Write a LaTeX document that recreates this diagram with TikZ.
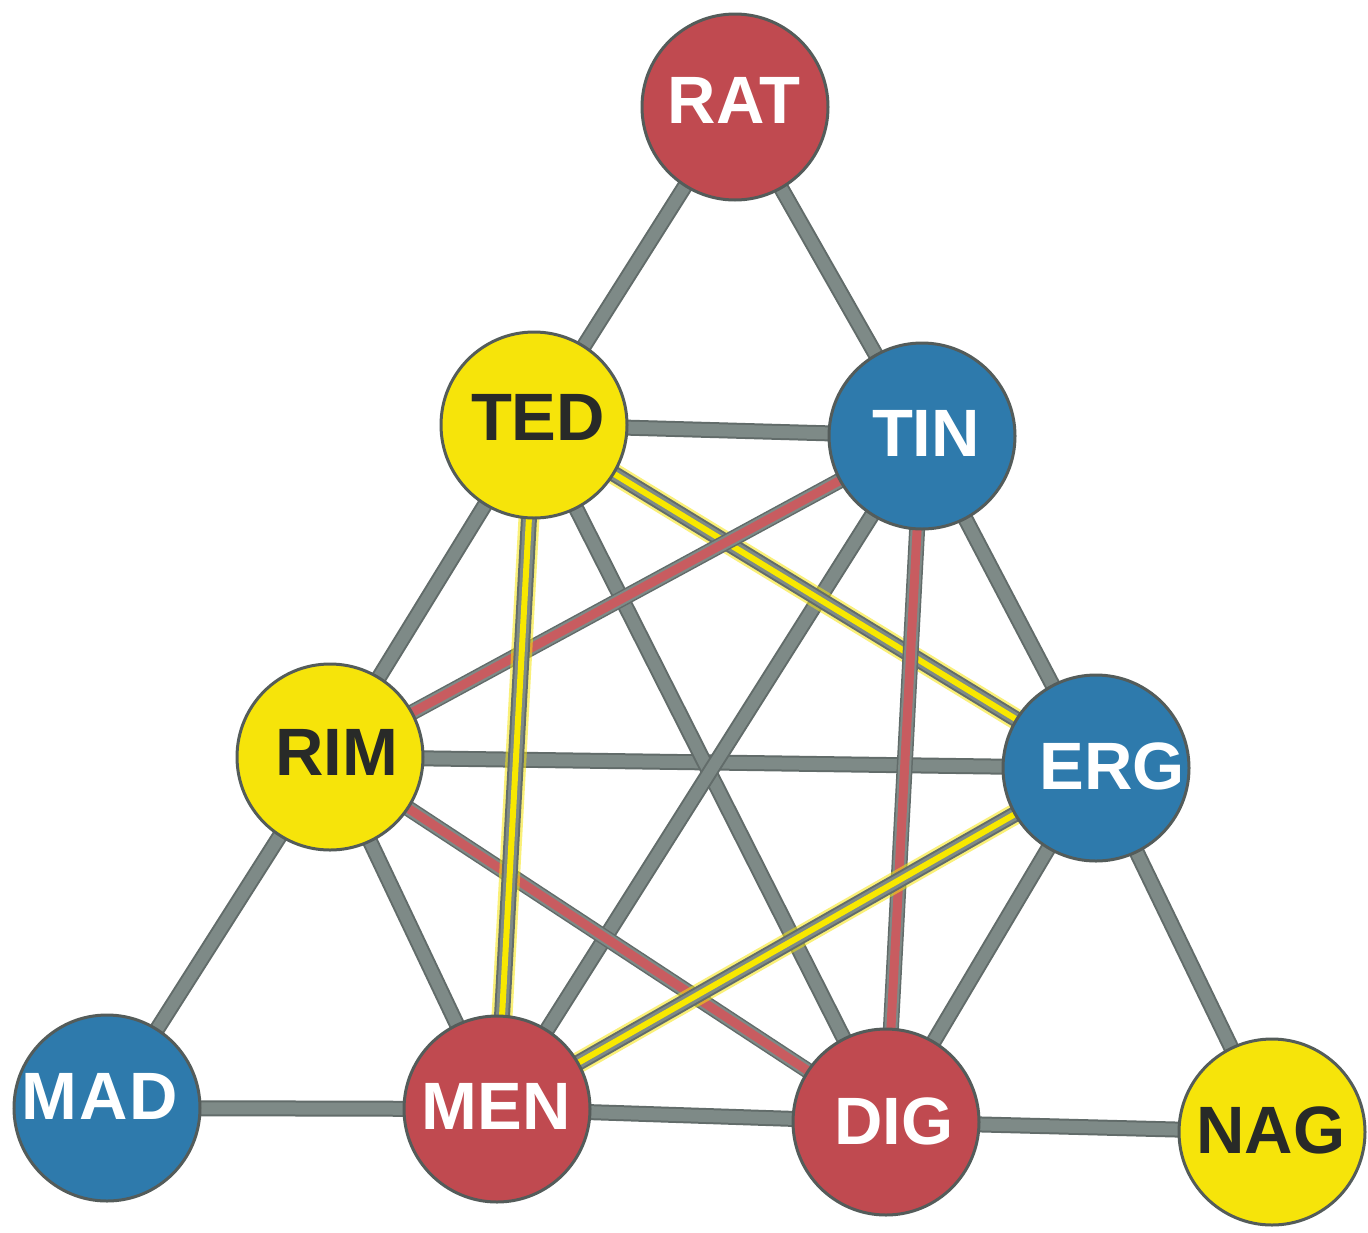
\documentclass[tikz,border=0pt]{standalone}
\usepackage{fontspec}
\newfontfamily\labelfont{Liberation Sans}
\pgfdeclarelayer{background}
\pgfsetlayers{background,main}
\definecolor{ballred}{RGB}{192,74,80}
\definecolor{ballblue}{RGB}{46,122,172}
\definecolor{ballyellow}{RGB}{246,228,10}
\definecolor{rodgray}{RGB}{126,138,135}
\definecolor{roddark}{RGB}{98,108,106}
\definecolor{rim}{RGB}{84,92,90}
\definecolor{inkdark}{RGB}{40,42,40}
\definecolor{stripered}{RGB}{200,92,96}
\definecolor{stripeyellow}{RGB}{248,232,0}
\tikzset{
  x=1pt, y=-1pt,
  ball/.style={circle, draw=rim, line width=3pt, minimum size=186pt, inner sep=0pt},
  redball/.style={ball, fill=ballred},
  blueball/.style={ball, fill=ballblue},
  yellowball/.style={ball, fill=ballyellow},
  lbl/.style={inner sep=0pt, font=\labelfont\bfseries\fontsize{67}{76}\selectfont},
  whitelbl/.style={lbl, text=white},
  darklbl/.style={lbl, text=inkdark},
  rodout/.style={draw=roddark, line width=16pt},
  rodin/.style={draw=rodgray, line width=12pt},
  redstripe/.style={draw=stripered, line width=9pt},
  yellowhalo/.style={draw=ballyellow, line width=21pt, opacity=0.55},
  yellowstripe/.style={draw=stripeyellow, line width=6pt},
}
\newcommand{\grayrod}[2]{%
  \draw[rodout] (#1.center) -- (#2.center);
  \draw[rodin] (#1.center) -- (#2.center);}
\newcommand{\redrod}[2]{%
  \draw[rodout] (#1.center) -- (#2.center);
  \draw[rodin, line width=13pt] (#1.center) -- (#2.center);
  \draw[redstripe] (#1.center) -- (#2.center);}
\newcommand{\yellowrod}[2]{%
  \draw[yellowhalo] (#1.center) -- (#2.center);
  \draw[rodout] (#1.center) -- (#2.center);
  \draw[rodin, line width=12pt] (#1.center) -- (#2.center);
  \draw[yellowstripe] (#1.center) -- (#2.center);}
\begin{document}
\begin{tikzpicture}
\useasboundingbox (0,0) rectangle (1368,1232);

% balls
\node[redball]    (rat) at (735,107)  {};
\node[yellowball] (ted) at (534,425)  {};
\node[blueball]   (tin) at (922,436)  {};
\node[yellowball] (rimb) at (330,757) {};
\node[blueball]   (erg) at (1096,768) {};
\node[blueball]   (mad) at (107,1108) {};
\node[redball]    (men) at (497,1109) {};
\node[redball]    (dig) at (886,1122) {};
\node[yellowball] (nag) at (1272,1132) {};

% words on the balls
\node[whitelbl] (rat-t)  at (734,100)  {RAT};
\node[darklbl]  (ted-t)  at (538,417)  {TED};
\node[whitelbl] (tin-t)  at (926,433)  {TIN};
\node[darklbl]  (rim-t)  at (337,752)  {RIM};
\node[whitelbl] (erg-t)  at (1112,766) {ERG};
\node[whitelbl] (mad-t)  at (100,1096) {M\kern2pt A\kern2pt D};
\node[whitelbl] (men-t)  at (496,1106) {MEN};
\node[whitelbl] (dig-t)  at (894,1121) {DIG};
\node[darklbl]  (nag-t)  at (1271,1130) {NAG};

% rods behind the balls
\begin{pgfonlayer}{background}
  \fill[white] (0,0) rectangle (1368,1232);
  \grayrod{rat}{ted}
  \grayrod{rat}{tin}
  \grayrod{ted}{tin}
  \grayrod{ted}{rimb}
  \grayrod{tin}{erg}
  \grayrod{rimb}{mad}
  \grayrod{rimb}{erg}
  \grayrod{rimb}{men}
  \grayrod{erg}{nag}
  \grayrod{mad}{men}
  \grayrod{men}{dig}
  \grayrod{dig}{nag}
  \grayrod{ted}{dig}
  \grayrod{tin}{men}
  \grayrod{erg}{dig}
  \yellowrod{ted}{erg}
  \redrod{tin}{rimb}
  \redrod{tin}{dig}
  \redrod{rimb}{dig}
  \yellowrod{ted}{men}
  \yellowrod{erg}{men}
\end{pgfonlayer}
\end{tikzpicture}
\end{document}
